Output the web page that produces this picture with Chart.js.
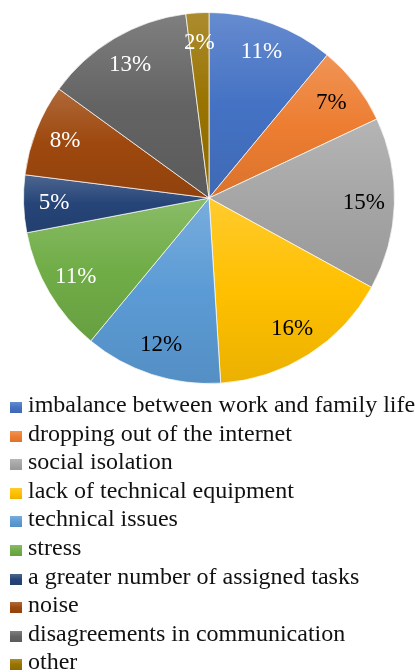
<script src="https://cdn.jsdelivr.net/npm/chart.js"></script>

<div id="page" style="position:absolute;left:0;top:0;width:415px;height:672px;overflow:hidden;background:#fff;font-family:'Times New Roman';">
    <div id="pie-box" style="position:absolute;left:0;top:0;width:415px;height:400px;"><canvas id="pie"></canvas></div>
    <div id="legend" style="position:absolute;left:10px;top:390px;white-space:nowrap;"></div>
</div>

<script>
    const categories = [
        "imbalance between work and family life",
        "dropping out of the internet",
        "social isolation",
        "lack of technical equipment",
        "technical issues",
        "stress",
        "a greater number of assigned tasks",
        "noise",
        "disagreements in communication",
        "other"
    ];
    const shares = [11, 7, 15, 16, 12, 11, 5, 8, 13, 2];
    const sliceColors = ["#4472C4", "#ED7D31", "#A5A5A5", "#FFC000", "#5B9BD5",
                         "#70AD47", "#264478", "#9E480E", "#636363", "#997300"];
    const labelColors = ["#fff", "#000", "#000", "#000", "#000",
                         "#fff", "#fff", "#fff", "#fff", "#fff"];

    // mix a hex colour toward white (amt > 0) or black (amt < 0)
    function shade(hex, amt) {
        const n = parseInt(hex.slice(1), 16);
        let r = n >> 16, g = (n >> 8) & 255, b = n & 255;
        const t = amt > 0 ? 255 : 0, p = Math.abs(amt);
        r = Math.round(r + (t - r) * p);
        g = Math.round(g + (t - g) * p);
        b = Math.round(b + (t - b) * p);
        return `rgb(${r},${g},${b})`;
    }

    // legend built from the same arrays
    const legend = document.getElementById('legend');
    categories.forEach((name, i) => {
        const row = document.createElement('div');
        row.style.cssText = "height:28.6px;line-height:28.6px;font-size:24px;color:#111;font-family:'Times New Roman';";
        const box = document.createElement('span');
        box.style.cssText = 'display:inline-block;width:12px;height:11px;margin-right:6px;vertical-align:-1px;';
        box.style.background = `linear-gradient(to bottom, ${shade(sliceColors[i], 0.18)}, ${sliceColors[i]} 50%, ${shade(sliceColors[i], -0.08)})`;
        row.appendChild(box);
        row.appendChild(document.createTextNode(name));
        legend.appendChild(row);
    });

    // vertical gradient per slice, like the office style fill
    const sliceGradient = {
        id: 'sliceGradient',
        beforeDatasetsDraw(chart) {
            const ctx = chart.ctx;
            chart.getDatasetMeta(0).data.forEach((arc, i) => {
                const { x, y, startAngle, endAngle, outerRadius } = arc.getProps(['x', 'y', 'startAngle', 'endAngle', 'outerRadius']);
                let top = y, bottom = y;
                const pts = [startAngle, endAngle];
                for (let a = -Math.PI * 2.5; a <= Math.PI * 2.5; a += Math.PI) {
                    if (a > startAngle && a < endAngle) pts.push(a);
                }
                pts.forEach(a => {
                    const py = y + Math.sin(a) * outerRadius;
                    top = Math.min(top, py);
                    bottom = Math.max(bottom, py);
                });
                const grad = ctx.createLinearGradient(0, top, 0, bottom);
                grad.addColorStop(0, shade(sliceColors[i], 0.18));
                grad.addColorStop(0.5, sliceColors[i]);
                grad.addColorStop(1, shade(sliceColors[i], -0.08));
                arc.options = Object.assign({}, arc.options, { backgroundColor: grad });
            });
        }
    };

    // percentage labels inside the slices
    const sliceLabels = {
        id: 'sliceLabels',
        afterDatasetsDraw(chart) {
            const ctx = chart.ctx;
            ctx.save();
            ctx.font = '23px "Times New Roman"';
            ctx.textAlign = 'center';
            ctx.textBaseline = 'middle';
            chart.getDatasetMeta(0).data.forEach((arc, i) => {
                const { x, y, startAngle, endAngle, outerRadius } = arc.getProps(['x', 'y', 'startAngle', 'endAngle', 'outerRadius']);
                const mid = (startAngle + endAngle) / 2;
                const r = outerRadius * 0.835;
                ctx.fillStyle = labelColors[i];
                ctx.fillText(shares[i] + '%', x + Math.cos(mid) * r, y + Math.sin(mid) * r);
            });
            ctx.restore();
        }
    };

    new Chart(document.getElementById('pie'), {
        type: 'pie',
        data: {
            labels: categories,
            datasets: [{
                data: shares,
                backgroundColor: sliceColors,
                borderColor: 'rgba(255,255,255,0.7)',
                borderWidth: 1
            }]
        },
        options: {
            responsive: true,
            maintainAspectRatio: false,
            animation: false,
            layout: {
                padding: { top: 12, bottom: 16, left: 23, right: 20 }
            },
            plugins: {
                legend: { display: false },
                tooltip: { enabled: false }
            }
        },
        plugins: [sliceGradient, sliceLabels]
    });
</script>
